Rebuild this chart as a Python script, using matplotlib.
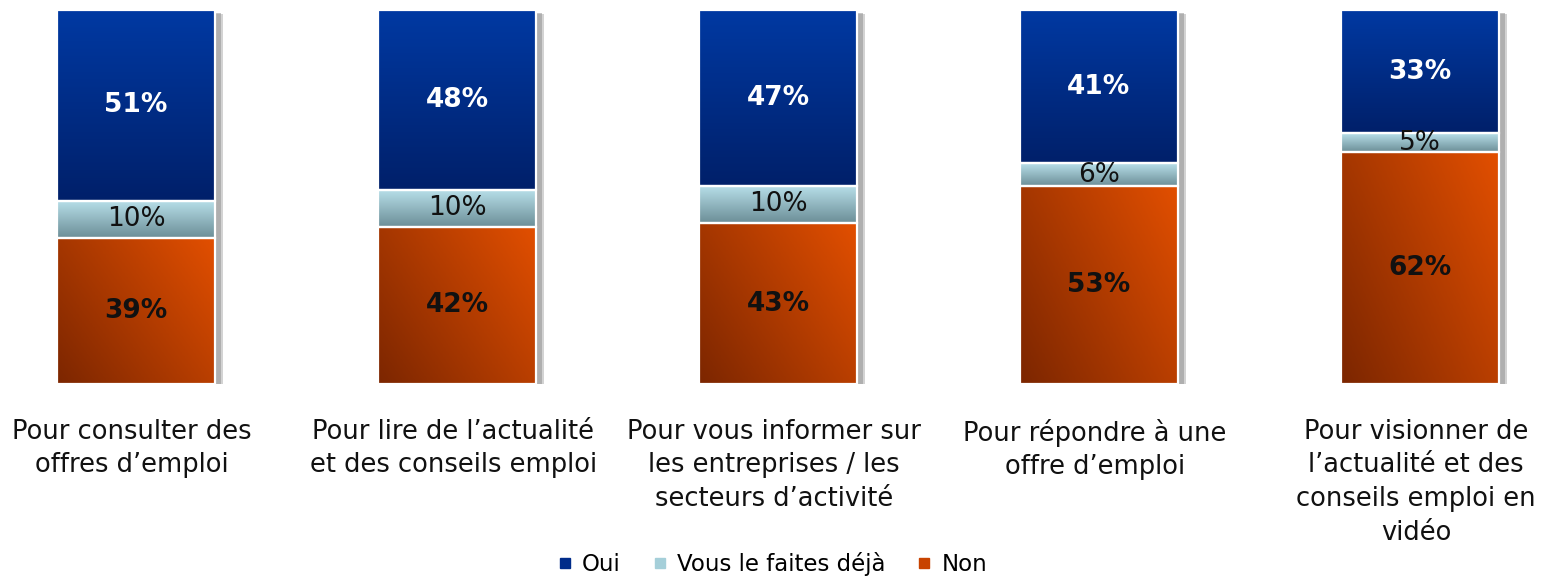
import numpy as np
import matplotlib
matplotlib.use("Agg")
import matplotlib.pyplot as plt
from matplotlib.colors import LinearSegmentedColormap
from matplotlib.lines import Line2D
import matplotlib.patheffects as pe

plt.rcParams['font.family'] = ['DejaVu Sans']

categories = [
    "Pour consulter des\noffres d\u2019emploi",
    "Pour lire de l\u2019actualit\u00e9\net des conseils emploi",
    "Pour vous informer sur\nles entreprises / les\nsecteurs d\u2019activit\u00e9",
    "Pour r\u00e9pondre \u00e0 une\noffre d\u2019emploi",
    "Pour visionner de\nl\u2019actualit\u00e9 et des\nconseils emploi en\nvid\u00e9o",
]
oui = [51, 48, 47, 41, 33]
deja = [10, 10, 10, 6, 5]
non = [39, 42, 43, 53, 62]
series_names = ["Oui", "Vous le faites d\u00e9j\u00e0", "Non"]

# gradient colours (start, end) and legend colour
grad_oui = ("#00206a", "#0039a2")      # bottom -> top
grad_deja = ("#6c8e97", "#b8e0ea")     # bottom -> top
grad_non = ("#7c2600", "#e24f00")      # bottom-left -> top-right
legend_cols = ["#002c8a", "#a5cfd9", "#c84300"]

fig = plt.figure(figsize=(15.45, 5.76), dpi=100)
ax = fig.add_axes([0, (576 - 384) / 576, 1, 374 / 576])

x = np.arange(len(categories))
width = 158 / 321
ax.set_xlim(-136 / 321, (1545 - 136) / 321)
ax.set_ylim(0, 100)
ax.axis("off")


def gradient_bar(xc, bottom, h, cols, diagonal=False):
    bar = ax.bar(xc, h, width, bottom=bottom, color="none", edgecolor="white",
                 linewidth=1.6, zorder=3)[0]
    cmap = LinearSegmentedColormap.from_list("g", [cols[0], cols[1]])
    n = 100
    if diagonal:
        gx, gy = np.meshgrid(np.linspace(0, 1, n), np.linspace(0, 1, n))
        z = (gx * 0.6 + gy * 0.4)
    else:
        z = np.tile(np.linspace(0, 1, n)[:, None], (1, n))
    im = ax.imshow(z, cmap=cmap, origin="lower", aspect="auto",
                   extent=(xc - width / 2, xc + width / 2, bottom, bottom + h), zorder=2)
    im.set_clip_path(bar)
    return bar


for i in range(len(categories)):
    # soft shadow behind the whole stack
    sh = ax.bar(x[i], 100, width, bottom=0, color="white", edgecolor="none", zorder=1)[0]
    sh.set_path_effects([pe.SimplePatchShadow(offset=(6, -3), shadow_rgbFace="#a8a8a8", alpha=0.5),
                         pe.SimplePatchShadow(offset=(4, -2), shadow_rgbFace="#8c8c8c", alpha=0.5),
                         pe.Normal()])
    gradient_bar(x[i], 0, non[i], grad_non, diagonal=True)
    gradient_bar(x[i], non[i], deja[i], grad_deja)
    gradient_bar(x[i], non[i] + deja[i], oui[i], grad_oui)

    ax.text(x[i], non[i] / 2, f"{non[i]}%", ha="center", va="center",
            fontsize=19, fontweight="bold", color="#111111", zorder=5)
    ax.text(x[i], non[i] + deja[i] / 2, f"{deja[i]}%", ha="center", va="center",
            fontsize=19, color="#111111", zorder=5)
    ax.text(x[i], non[i] + deja[i] + oui[i] / 2, f"{oui[i]}%", ha="center", va="center",
            fontsize=19, fontweight="bold", color="white", zorder=5)
    ax.text(x[i] - 0.012, -9.3, categories[i], ha="center", va="top", fontsize=18.5,
            linespacing=1.38, color="#111111", clip_on=False)

handles = [Line2D([0], [0], marker="s", linestyle="none", markersize=7,
                  markerfacecolor=c, markeredgecolor=c) for c in legend_cols]
fig.legend(handles, series_names, loc="lower center", ncol=3, frameon=False,
           fontsize=16.5, bbox_to_anchor=(0.5, -0.035), handlelength=0.6,
           handletextpad=0.45, columnspacing=1.4)

fig.savefig("out.png", dpi=100)
